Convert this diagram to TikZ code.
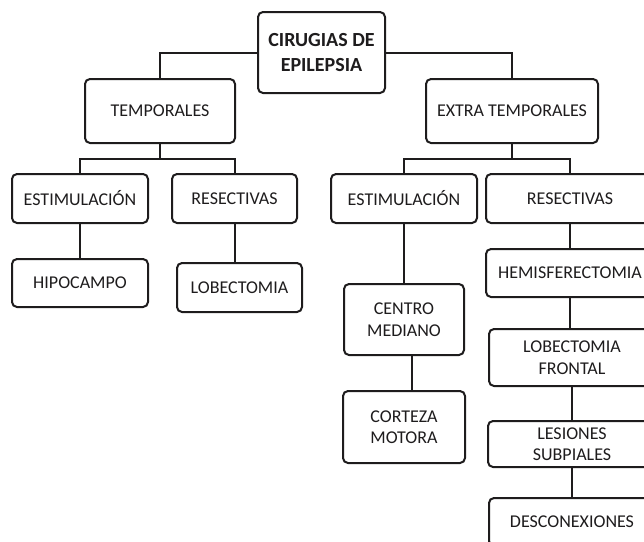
\documentclass[tikz,border=0pt]{standalone}
\usepackage{fontspec}
\setmainfont{Carlito}
\definecolor{ink}{HTML}{1E1C1D}
\tikzset{
  box/.style={draw=ink, line width=2pt, rounded corners=5pt, fill=white, text=ink,
    align=center, inner sep=0pt, font=\fontsize{18}{21.5}\selectfont},
  rootbox/.style={box, font=\bfseries\fontsize{20}{24.5}\selectfont},
  link/.style={draw=ink, line width=2pt}
}
\begin{document}
\begin{tikzpicture}[x=1pt,y=-1pt]
\useasboundingbox (0,0) rectangle (644,541);
\clip (0,0) rectangle (644,541);
% nodes
\node[rootbox, minimum width=127pt, minimum height=81pt] (root) at (321.5,52.5) {CIRUGIAS DE\\EPILEPSIA};
\node[box, minimum width=150pt, minimum height=64pt] (temp) at (160,111) {TEMPORALES};
\node[box, minimum width=172pt, minimum height=64pt] (extra) at (512,111) {EXTRA TEMPORALES};
\node[box, minimum width=136pt, minimum height=49pt] (estL) at (80,198.5) {ESTIMULACIÓN};
\node[box, minimum width=125pt, minimum height=49pt] (resL) at (234.5,198.5) {RESECTIVAS};
\node[box, minimum width=136pt, minimum height=48pt] (hipo) at (80,283) {HIPOCAMPO};
\node[box, minimum width=125pt, minimum height=49pt] (lobe) at (239.5,287.5) {LOBECTOMIA};
\node[box, minimum width=146pt, minimum height=49pt] (estR) at (404,198.5) {ESTIMULACIÓN};
\node[box, minimum width=168pt, minimum height=49pt] (resR) at (570,198.5) {RESECTIVAS};
\node[box, minimum width=120pt, minimum height=71pt] (centro) at (404,319.5) {CENTRO\\MEDIANO};
\node[box, minimum width=122pt, minimum height=72pt] (corteza) at (404,427) {CORTEZA\\MOTORA};
\node[box, minimum width=168pt, minimum height=48pt] (hemi) at (570,273) {HEMISFERECTOMIA};
\node[box, minimum width=166pt, minimum height=57pt] (lobF) at (572,357.5) {LOBECTOMIA\\FRONTAL};
\node[box, minimum width=168pt, minimum height=46pt] (lesion) at (572,444) {LESIONES\\SUBPIALES};
\node[box, minimum width=166pt, minimum height=48pt] (desc) at (572,522) {DESCONEXIONES};
% junctions
\coordinate (tj) at (160,159);
\coordinate (ej) at (512,159);
% connectors
\draw[link] (root.west) -| (temp.north);
\draw[link] (root.east) -| (extra.north);
\draw[link] (temp.south) -- (tj);
\draw[link] (estL.north) |- (tj) -| (resL.north);
\draw[link] (extra.south) -- (ej);
\draw[link] (estR.north) |- (ej) -| (resR.north);
\draw[link] (estL.south) -- (hipo.north);
\draw[link] (resL.south) -- (resL.south |- lobe.north);
\draw[link] (estR.south) -- (centro.north);
\draw[link] ([xshift=8pt]centro.south) -- ([xshift=8pt]centro.south |- corteza.north);
\draw[link] (resR.south) -- (hemi.north);
\draw[link] (hemi.south) -- (hemi.south |- lobF.north);
\draw[link] (lobF.south) -- (lesion.north);
\draw[link] (lesion.south) -- (desc.north);
\end{tikzpicture}
\end{document}
